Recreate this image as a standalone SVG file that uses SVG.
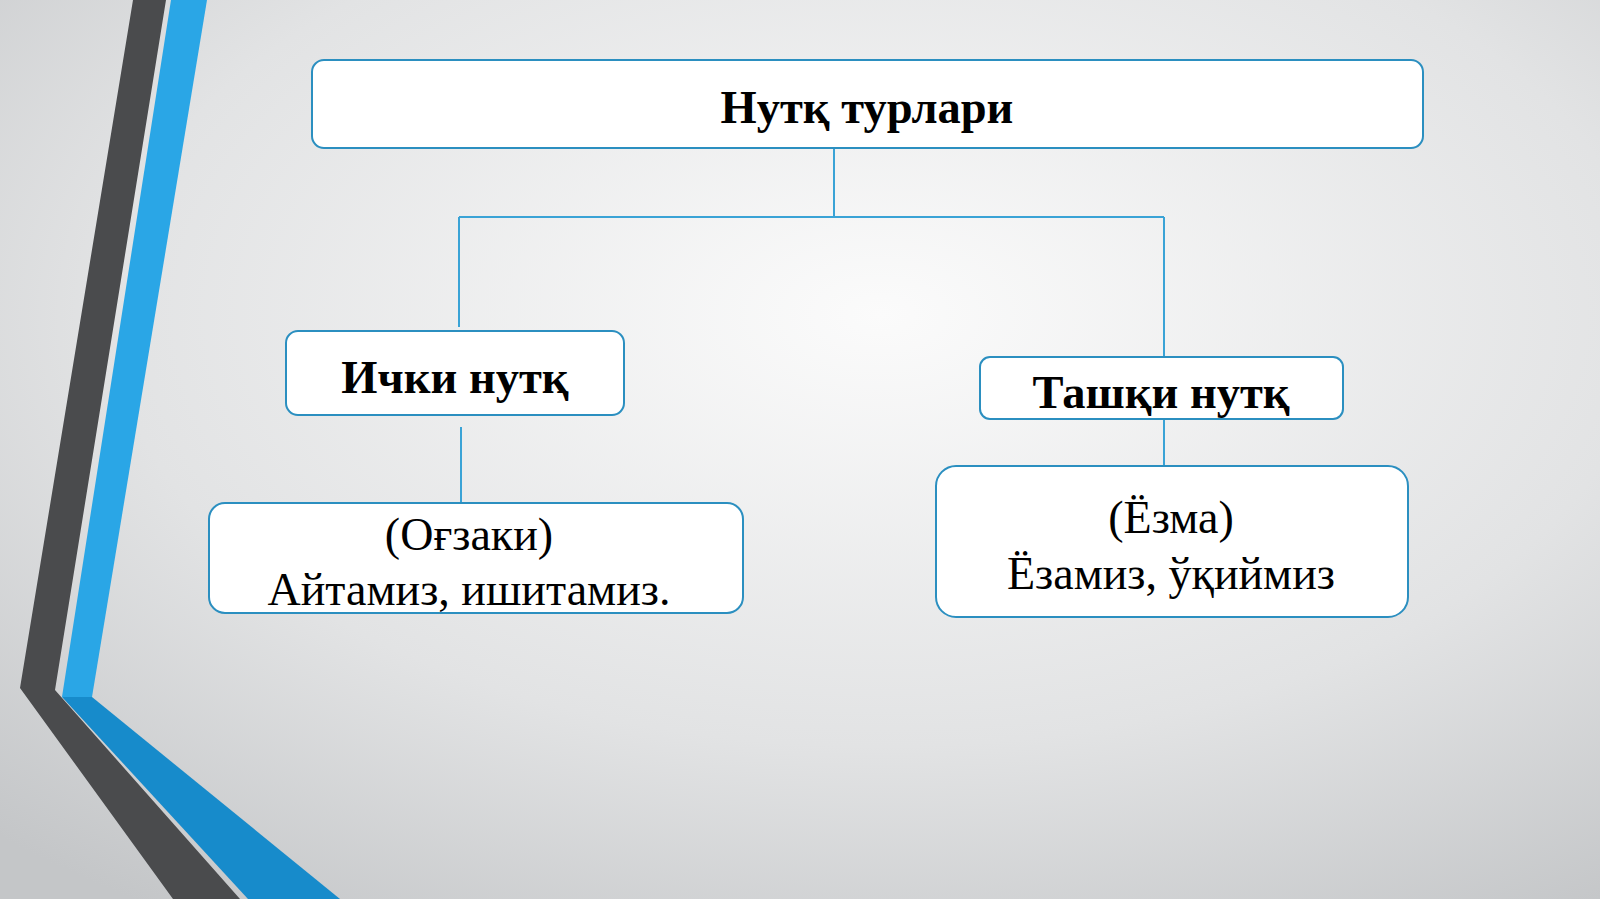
<svg xmlns="http://www.w3.org/2000/svg" width="1600" height="899" viewBox="0 0 1600 899">
<defs>
<radialGradient id="bg" cx="0.55" cy="0.35" r="0.8">
<stop offset="0" stop-color="#fbfbfb"/><stop offset="0.6" stop-color="#e2e3e4"/><stop offset="1" stop-color="#c4c6c8"/>
</radialGradient>
<style>
.box{fill:#fff;stroke:#2b8fc0;stroke-width:2}
.con{stroke:#3aa3d6;stroke-width:2;fill:none}
.b{font-family:"Liberation Serif",serif;font-weight:bold;font-size:46.5px;fill:#000;text-anchor:middle}
.r{font-family:"Liberation Serif",serif;font-size:46px;fill:#000;text-anchor:middle}
</style>
</defs>
<rect width="1600" height="899" fill="url(#bg)"/>
<g id="decor">
<polygon points="133,0 166,0 55,690 240,899 173,899 20,688" fill="#4a4b4d"/>
<polygon points="171,0 207,0 92,697 62,697" fill="#2aa6e6"/>
<polygon points="62,697 92,697 340,899 248,899" fill="#178bcb"/>
</g>
<g id="connectors">
<path class="con" d="M834 148V217M459 217H1164M459 217V327M1164 217V357M461 427V503M1164 419V466"/>
</g>
<g id="n-root"><rect class="box" x="312" y="60" width="1111" height="88" rx="12"/><text class="b" x="867" y="123">Нутқ турлари</text></g>
<g id="n-ichki"><rect class="box" x="286" y="331" width="338" height="84" rx="12"/><text class="b" x="455" y="393">Ички нутқ</text></g>
<g id="n-tashqi"><rect class="box" x="980" y="357" width="363" height="62" rx="10"/><text class="b" x="1161" y="408">Ташқи нутқ</text></g>
<g id="n-ogzaki"><rect class="box" x="209" y="503" width="534" height="110" rx="16"/><text class="r" x="469" y="550">(Оғзаки)</text><text class="r" x="469" y="605">Айтамиз, ишитамиз.</text></g>
<g id="n-yozma"><rect class="box" x="936" y="466" width="472" height="151" rx="20"/><text class="r" x="1171" y="533">(Ёзма)</text><text class="r" x="1171" y="589">Ёзамиз, ўқиймиз</text></g>
</svg>
